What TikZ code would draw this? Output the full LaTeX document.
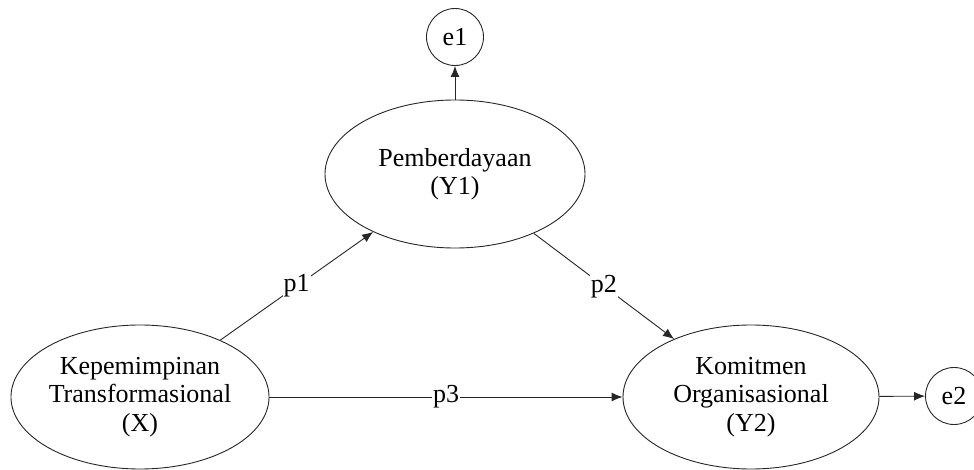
\documentclass[tikz,border=0pt]{standalone}
\usepackage{fontspec}
\setmainfont{Liberation Serif}
\usetikzlibrary{shapes.geometric,arrows.meta}
\definecolor{linegray}{rgb}{0.15, 0.15, 0.15}

\begin{document}
\begin{tikzpicture}[x=1pt, y=-1pt,
    latent/.style={ellipse, draw=linegray, line width=0.9pt, minimum width=256pt, minimum height=144pt,
      align=center, font=\fontsize{26}{28.5}\selectfont, inner sep=0pt},
    err/.style={circle, draw=linegray, line width=0.9pt, minimum size=57pt,
      font=\fontsize{26}{28.5}\selectfont, inner sep=0pt},
    path/.style={draw=linegray, line width=0.9pt, -{Latex[length=11pt,width=9pt]}},
    plabel/.style={fill=white, inner sep=1pt, font=\fontsize{26}{28.5}\selectfont}]
    \useasboundingbox (0,0) rectangle (974,470);
    \node[latent] (X) at (140,397) {Kepemimpinan\\Transformasional\\(X)};
    \node[latent, minimum width=260pt, minimum height=148pt] (Y1) at (455,174) {Pemberdayaan\\(Y1)};
    \node[latent] (Y2) at (751,397) {Komitmen\\Organisasional\\(Y2)};
    \node[err] (e1) at (455,37) {e1};
    \node[err] (e2) at (954,396) {e2};
    \draw[path] (X) -- node[plabel] {p1} (Y1);
    \draw[path] (Y1) -- node[plabel] {p2} (Y2);
    \draw[path] (X) -- node[plabel] {p3} (Y2);
    \draw[path] (Y1) -- (e1);
    \draw[path] (Y2) -- (e2);
  \end{tikzpicture}
\end{document}
